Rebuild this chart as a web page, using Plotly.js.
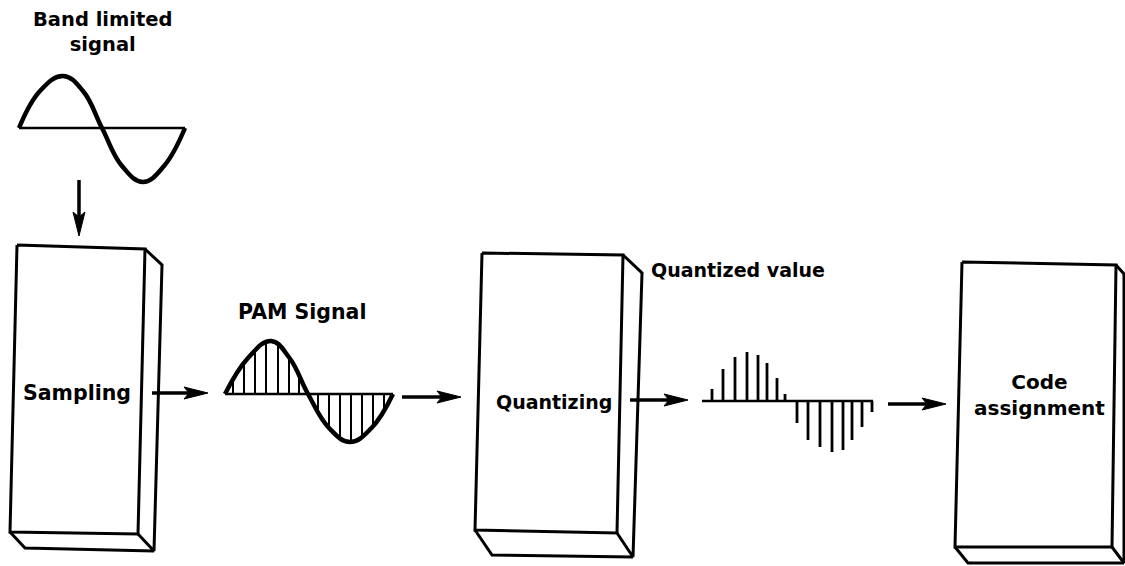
<!DOCTYPE html>
<html>
<head>
<meta charset="utf-8">
<script src="https://cdn.plot.ly/plotly-3.0.1.min.js"></script>
<style>html,body{margin:0;padding:0;background:#fff;}#chart{width:1125px;height:566px;}</style>
</head>
<body>
<div id="chart"></div>
<script>
// ---- data (pixel units: x right, y down) ----
const bandWaveX = [19, 40, 63, 83, 102, 122, 143, 164, 185];
const bandWaveY = [128, 91, 76, 91, 128, 166, 182, 166, 128];
const bandBaseX = [19, 185];
const bandBaseY = [128, 128];

const pamWaveX = [225, 248, 271, 289.5, 308, 329, 350, 371.5, 393];
const pamWaveY = [394, 358, 341, 358, 394, 428, 442, 428, 394];
const pamBaseX = [225, 393];
const pamBaseY = [394, 394];
const pamSampleX = [233, 244, 255, 266, 278, 289, 299, 318, 329, 340, 351, 362, 373, 384];
const pamSampleY = [380, 363, 350, 344, 345, 357, 375, 411, 428, 439, 442, 437, 426, 410];

const quantBaseX = [702, 873];
const quantBaseY = [401, 401];
const quantSampleX = [712, 723, 735, 747, 758, 767, 777, 785, 797, 808, 820, 832, 843, 852, 862, 872];
const quantSampleY = [389, 369, 357, 352, 355, 363, 378, 394, 423, 440, 447, 452, 450, 440, 427, 412];

// blocks: front face corners TL, TR, BR, BL; side outer top, side outer bottom; bottom-left rear
const blockNames = ["Sampling", "Quantizing", "Code<br>assignment"];
const frontX = [[17, 145, 138, 10], [482, 623, 617, 475], [962, 1116, 1112, 955]];
const frontY = [[245, 249, 534, 532], [253, 255, 533, 530], [262, 265, 547, 547]];
const sideX = [[162, 154], [642, 633], [1124, 1124]];
const sideY = [[265, 551], [273, 557], [274, 563]];
const rearX = [25, 492, 968];
const rearY = [548, 555, 563];
const labelX = [77, 554, 1039];
const labelY = [393, 402, 395];
const labelSize = [20.5, 19, 20];

const arrowTailX = [79, 152, 402, 630, 888];
const arrowTailY = [180, 393, 397, 400, 404];
const arrowTipX = [79, 208, 461, 688, 946];
const arrowTipY = [236, 393, 397, 400, 404];

const titleText = ["Band limited<br>signal", "PAM Signal", "Quantized value"];
const titleX = [103, 302, 738];
const titleY = [32, 312, 270];
const titleSize = [19.5, 20.5, 19];

// ---- build traces ----
const traces = [];
const ink = "#000";
function line(x, y, w, extra) {
  traces.push(Object.assign({type: "scatter", mode: "lines", x: x, y: y,
    line: {color: ink, width: w}, hoverinfo: "skip"}, extra || {}));
}
function stems(xs, ys, baseY, w) {
  const x = [], y = [];
  xs.forEach((v, i) => { x.push(v, v, null); y.push(baseY, ys[i], null); });
  line(x, y, w);
}

// band limited signal
line(bandBaseX, bandBaseY, 2.5);
line(bandWaveX, bandWaveY, 4.5, {line: {color: ink, width: 4.5, shape: "spline", smoothing: 1.2}});

// PAM signal
stems(pamSampleX, pamSampleY, pamBaseY[0], 2);
line(pamBaseX, pamBaseY, 2.5);
line(pamWaveX, pamWaveY, 4.5, {line: {color: ink, width: 4.5, shape: "spline", smoothing: 1.2}});

// quantized value
stems(quantSampleX, quantSampleY, quantBaseY[0], 2.8);
line(quantBaseX, quantBaseY, 2.5);

// blocks
for (let i = 0; i < blockNames.length; i++) {
  const fx = frontX[i], fy = frontY[i];
  line([fx[0], fx[1], fx[2], fx[3], fx[0]], [fy[0], fy[1], fy[2], fy[3], fy[0]], 3,
       {fill: "toself", fillcolor: "#fff"});
  line([fx[1], sideX[i][0], sideX[i][1], fx[2]], [fy[1], sideY[i][0], sideY[i][1], fy[2]], 3);
  line([fx[3], rearX[i], sideX[i][1]], [fy[3], rearY[i], sideY[i][1]], 3);
}

// arrows: shaft + slender head computed from tail/tip
const headLen = 24, headHalf = 6;
for (let i = 0; i < arrowTailX.length; i++) {
  const tx = arrowTailX[i], ty = arrowTailY[i], hx = arrowTipX[i], hy = arrowTipY[i];
  const L = Math.hypot(hx - tx, hy - ty), ux = (hx - tx) / L, uy = (hy - ty) / L;
  const bx = hx - ux * headLen, by = hy - uy * headLen;
  line([tx, bx + ux * 4], [ty, by + uy * 4], 3.5);
  line([hx, bx - uy * headHalf, bx + ux * 5, bx + uy * headHalf, hx],
       [hy, by + ux * headHalf, by + uy * 5, by - ux * headHalf, hy], 1,
       {fill: "toself", fillcolor: ink});
}

function font(size) {
  return {family: "DejaVu Sans, Liberation Sans, sans-serif", size: size, color: ink, weight: "bold"};
}
const annotations = [];
titleText.forEach((t, i) => annotations.push({x: titleX[i], y: titleY[i], xref: "x", yref: "y",
  text: t, showarrow: false, font: font(titleSize[i]), align: "center"}));
blockNames.forEach((t, i) => annotations.push({x: labelX[i], y: labelY[i], xref: "x", yref: "y",
  text: t, showarrow: false, font: font(labelSize[i]), align: "center"}));

const layout = {
  width: 1125, height: 566,
  margin: {l: 0, r: 0, t: 0, b: 0},
  paper_bgcolor: "#fff", plot_bgcolor: "#fff",
  showlegend: false,
  xaxis: {range: [0, 1125], visible: false, fixedrange: true},
  yaxis: {range: [566, 0], visible: false, fixedrange: true},
  annotations: annotations
};
Plotly.newPlot("chart", traces, layout, {displayModeBar: false, staticPlot: true});
</script>
</body>
</html>
